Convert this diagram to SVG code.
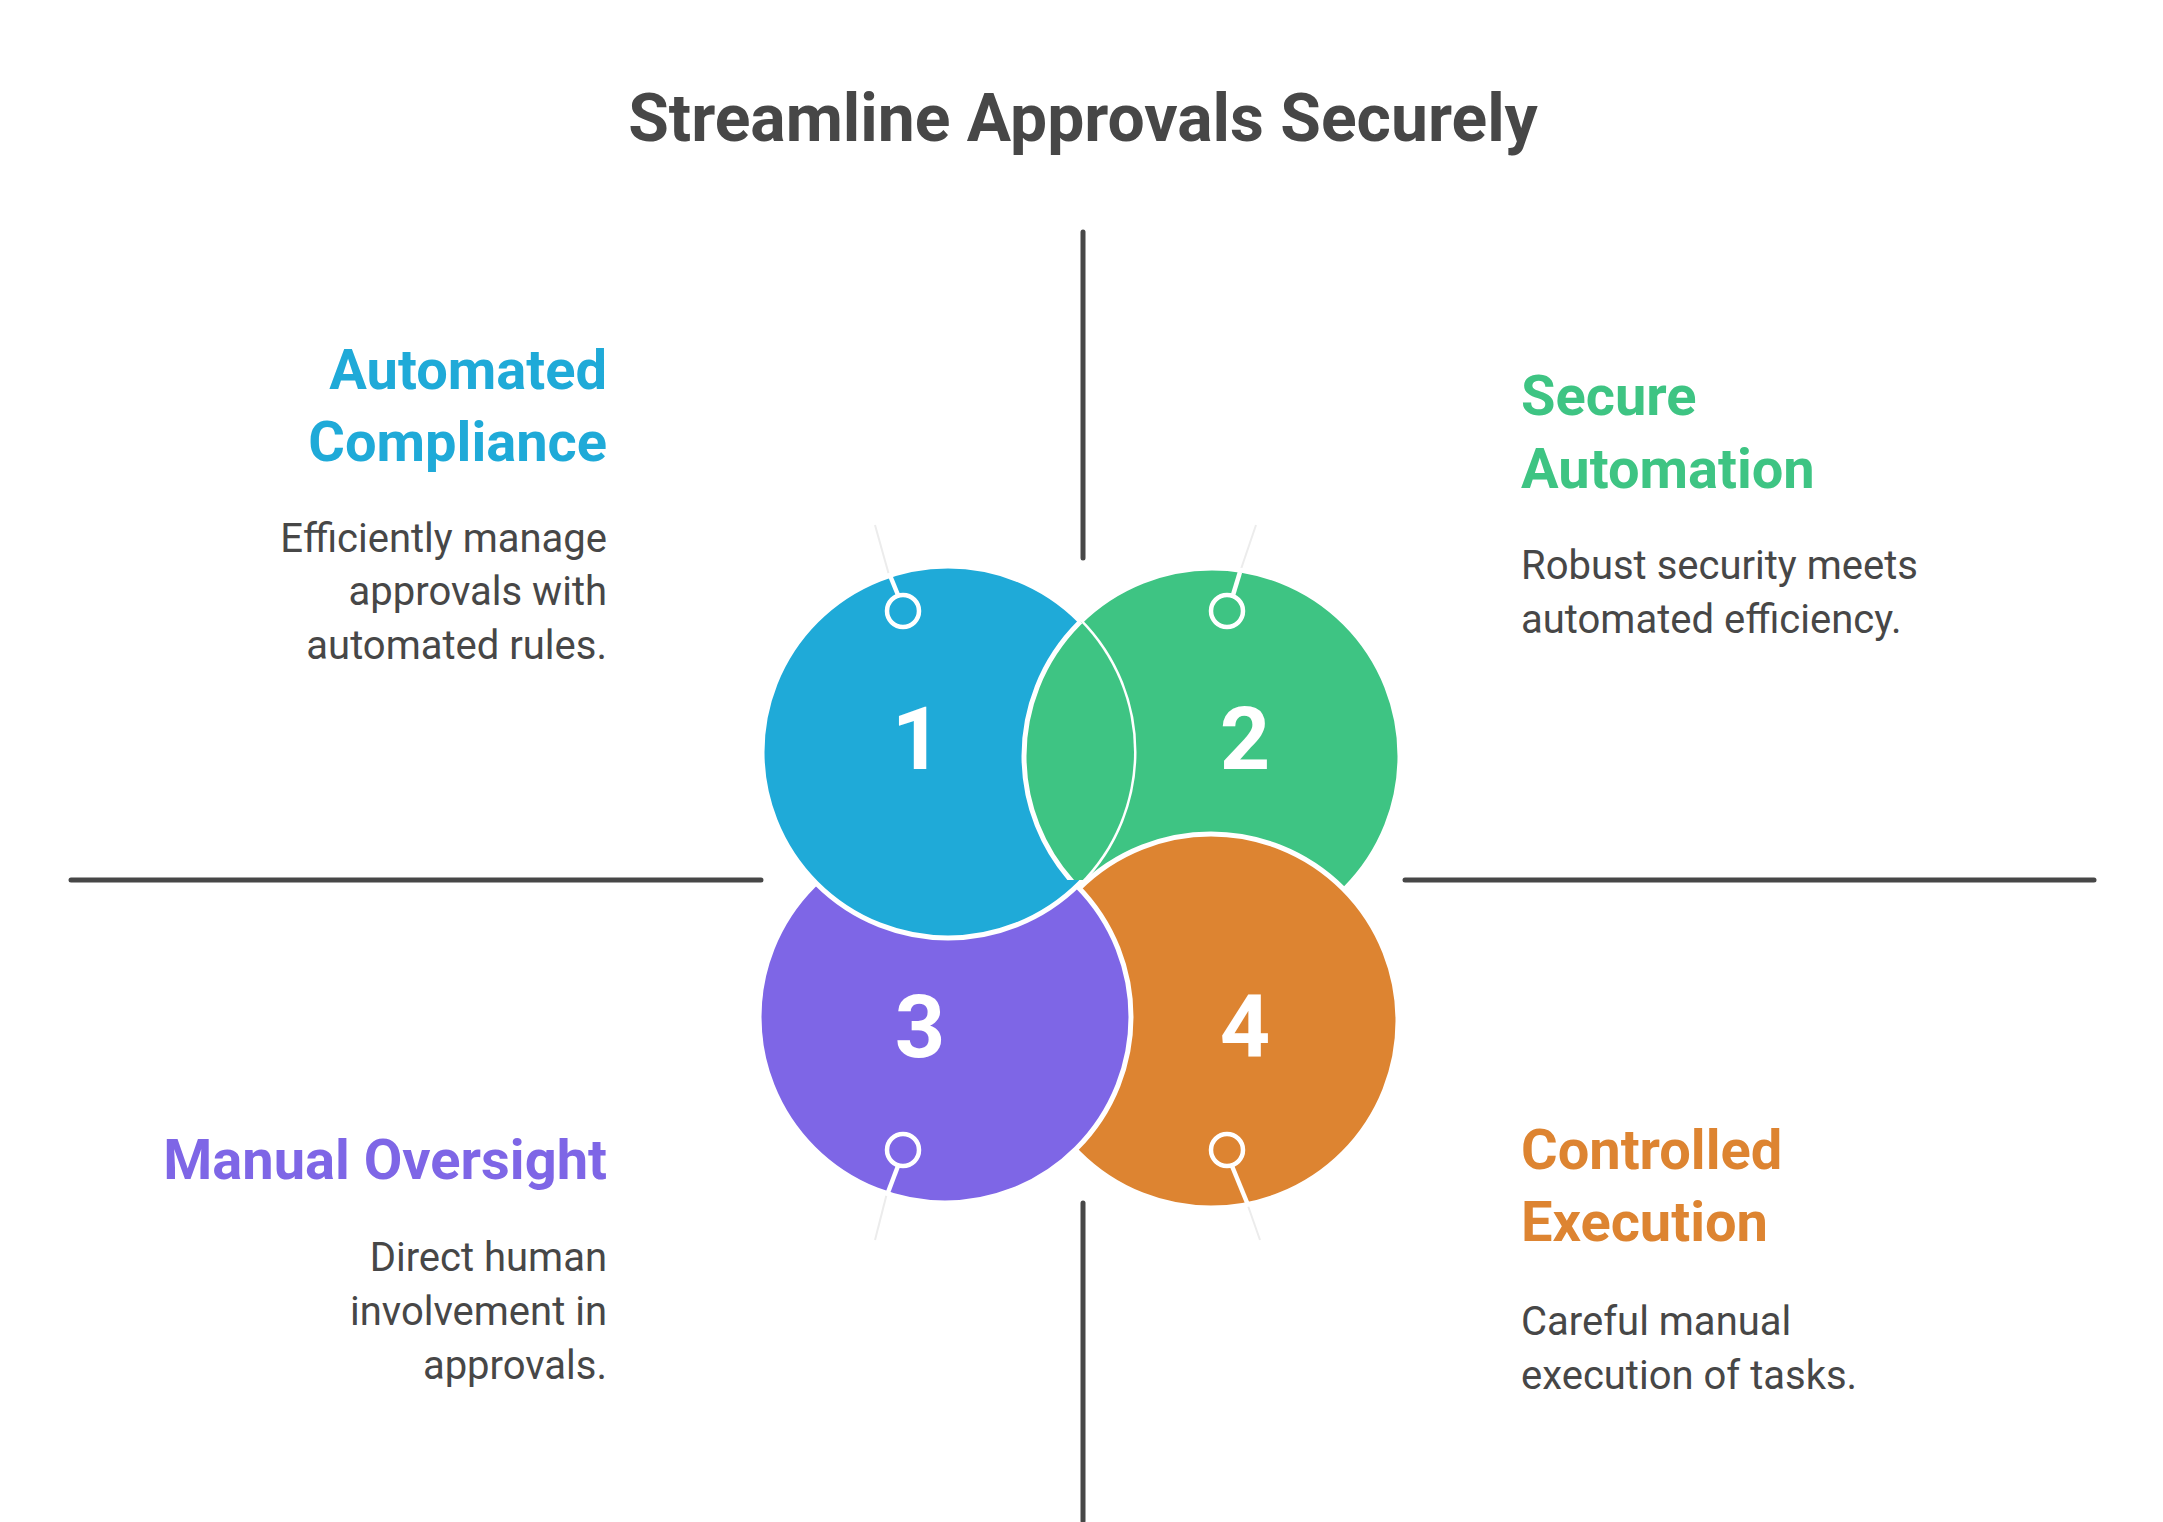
<svg xmlns="http://www.w3.org/2000/svg" width="2163" height="1522" viewBox="0 0 2163 1522">
<style>
.ax{stroke:#474747;stroke-width:5;stroke-linecap:round}
.c{stroke:#fff;stroke-width:5}
.ring{fill:none;stroke:#fff;stroke-width:4.5}
.lk{stroke:#fff;stroke-width:4.5}
.fl{stroke:#ececec;stroke-width:2}
.num{font-family:Roboto,"Liberation Sans",sans-serif;font-weight:700;font-size:88px;fill:#fff;text-anchor:middle}
.h{font-family:Roboto,"Liberation Sans",sans-serif;font-weight:700;font-size:56px}
.b{font-family:Roboto,"Liberation Sans",sans-serif;font-size:40px;fill:#474747}
.r{text-anchor:end}
</style>
<defs>
<clipPath id="c1"><circle cx="948" cy="752" r="186"/></clipPath>
<clipPath id="top"><rect x="0" y="0" width="2163" height="880"/></clipPath>
</defs>
<rect width="2163" height="1522" fill="#fff"/>
<text x="1083" y="141" text-anchor="middle" font-family="Roboto,'Liberation Sans',sans-serif" font-weight="700" font-size="66" fill="#474747">Streamline Approvals Securely</text>
<g id="connectors">
<line class="ax" x1="1083" y1="232" x2="1083" y2="558"/>
<line class="ax" x1="1083" y1="1203" x2="1083" y2="1521"/>
<line class="ax" x1="71" y1="880" x2="761" y2="880"/>
<line class="ax" x1="1405" y1="880" x2="2094" y2="880"/>
<line class="fl" x1="875" y1="525" x2="889" y2="575"/>
<line class="fl" x1="1256" y1="525" x2="1240" y2="572"/>
<line class="fl" x1="875" y1="1240" x2="887" y2="1193"/>
<line class="fl" x1="1260" y1="1240" x2="1247" y2="1203"/>
</g>
<g id="node2"><circle class="c" cx="1212" cy="756" r="188" fill="#3EC483"/></g>
<g id="node4"><circle class="c" cx="1211" cy="1021" r="187" fill="#DD8431"/></g>
<g id="node3"><circle class="c" cx="945" cy="1017" r="186" fill="#7E66E6"/></g>
<g id="node1"><circle class="c" cx="948" cy="752" r="186" fill="#1FAAD8"/></g>
<g clip-path="url(#c1)"><g clip-path="url(#top)"><circle class="c" cx="1212" cy="756" r="188" fill="#3EC483"/></g></g>
<g id="rings">
<line class="lk" x1="889" y1="573" x2="898" y2="595"/><circle class="ring" cx="903" cy="611" r="16"/>
<line class="lk" x1="1240" y1="572" x2="1233" y2="595"/><circle class="ring" cx="1227" cy="611" r="16"/>
<line class="lk" x1="887" y1="1195" x2="898" y2="1166"/><circle class="ring" cx="903" cy="1150" r="16"/>
<line class="lk" x1="1248" y1="1205" x2="1232" y2="1166"/><circle class="ring" cx="1227" cy="1150" r="16"/>
</g>
<text class="num" x="917" y="769">1</text>
<text class="num" x="1245" y="769">2</text>
<text class="num" x="920" y="1057">3</text>
<text class="num" x="1245" y="1057">4</text>
<g id="t1">
<text class="h r" x="607" y="389" fill="#1FAAD8">Automated</text>
<text class="h r" x="607" y="461" fill="#1FAAD8">Compliance</text>
<text class="b r" x="607" y="552">Efficiently manage</text>
<text class="b r" x="607" y="605">approvals with</text>
<text class="b r" x="607" y="659">automated rules.</text>
</g>
<g id="t2">
<text class="h" x="1521" y="415" fill="#3EC483">Secure</text>
<text class="h" x="1521" y="488" fill="#3EC483">Automation</text>
<text class="b" x="1521" y="579">Robust security meets</text>
<text class="b" x="1521" y="633">automated efficiency.</text>
</g>
<g id="t3">
<text class="h r" x="607" y="1179" fill="#7E66E6">Manual Oversight</text>
<text class="b r" x="607" y="1271">Direct human</text>
<text class="b r" x="607" y="1325">involvement in</text>
<text class="b r" x="607" y="1379">approvals.</text>
</g>
<g id="t4">
<text class="h" x="1521" y="1169" fill="#DD8431">Controlled</text>
<text class="h" x="1521" y="1241" fill="#DD8431">Execution</text>
<text class="b" x="1521" y="1335">Careful manual</text>
<text class="b" x="1521" y="1389">execution of tasks.</text>
</g>
</svg>
